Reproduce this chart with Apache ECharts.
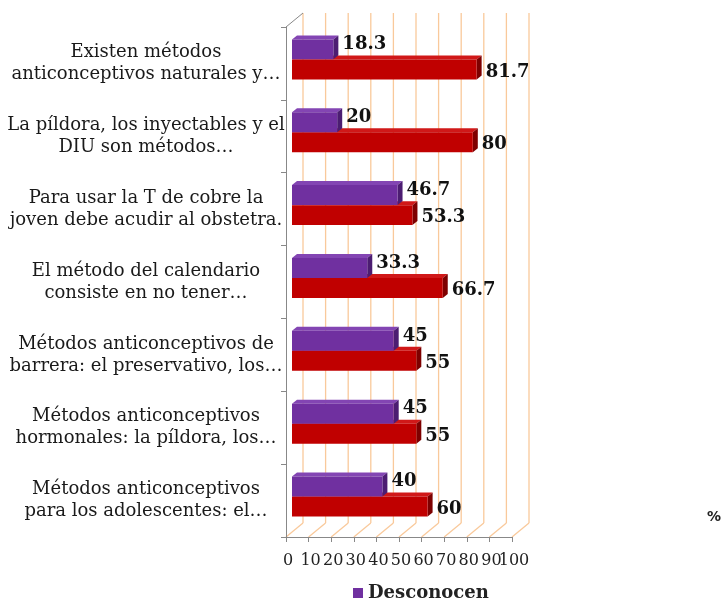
<!DOCTYPE html>
<html>
<head>
<meta charset="utf-8">
<script src="https://cdn.jsdelivr.net/npm/echarts@6/dist/echarts.min.js"></script>
<style>
  html, body { margin: 0; padding: 0; background: #fff; }
  #chart { width: 722px; height: 602px; }
</style>
</head>
<body>
<div id="chart"></div>
<script>
// categorias (texto cortado igual que en la figura original)
const categories = [
  'Existen métodos\nanticonceptivos naturales y…',
  'La píldora, los inyectables y el\nDIU son métodos…',
  'Para usar la T de cobre la\njoven debe acudir al obstetra.',
  'El método del calendario\nconsiste en no tener…',
  'Métodos anticonceptivos de\nbarrera: el preservativo, los…',
  'Métodos anticonceptivos\nhormonales: la píldora, los…',
  'Métodos anticonceptivos\npara los adolescentes: el…'
]
const desconocen = [18.3, 20, 46.7, 33.3, 45, 45, 40]
const conocen = [81.7, 80, 53.3, 66.7, 55, 55, 60]
const xTicks = [0, 10, 20, 30, 40, 50, 60, 70, 80, 90, 100]

const DX = 17 // profundidad de la pared del fondo
const DY = 14
const serif = '"DejaVu Serif", serif'

// barra con efecto 3D: cara frontal, cara superior y lateral
function bar3d(front, top, side, offRatio, labelDy) {
  return function(params, api) {
    const idx = api.value(0)
    const val = api.value(1)
    const start = api.coord([0, idx])
    const end = api.coord([val, idx])
    const band = api.size([0, 1])[1]
    const x0 = start[0] + 6
    const x1 = end[0] + 6
    const h = band * 0.274
    const y = start[1] + band * offRatio
    const d = 5
    const e = 4
    return {
      type: 'group',
      children: [
        {
          type: 'polygon',
          shape: { points: [[x0, y], [x0 + d, y - e], [x1 + d, y - e], [x1, y]] },
          style: { fill: top }
        },
        {
          type: 'polygon',
          shape: { points: [[x1, y], [x1 + d, y - e], [x1 + d, y + h - e], [x1, y + h]] },
          style: { fill: side }
        },
        {
          type: 'rect',
          shape: { x: x0, y: y, width: x1 - x0, height: h },
          style: { fill: front }
        },
        {
          type: 'text',
          style: {
            text: String(val),
            x: x1 + 9,
            y: start[1] + labelDy,
            align: 'left',
            verticalAlign: 'middle',
            font: 'bold 18px ' + serif,
            fill: '#111'
          }
        }
      ]
    }
  }
}

const chart = echarts.init(document.getElementById('chart'))
const option = {
  animation: false,
  backgroundColor: '#fff',
  grid: { left: 286, right: 210, top: 27, bottom: 65, containLabel: false },
  legend: {
    data: ['Desconocen'],
    left: 348,
    top: 579,
    icon: 'rect',
    itemWidth: 10,
    itemHeight: 10,
    itemGap: 8,
    textStyle: { fontFamily: serif, fontWeight: 'bold', fontSize: 18, color: '#222' }
  },
  xAxis: {
    type: 'value',
    min: 0,
    max: 100,
    interval: 10,
    axisLine: { show: true, lineStyle: { color: '#888' } },
    axisTick: { show: true, length: 5, lineStyle: { color: '#888' } },
    splitLine: { show: false },
    // las etiquetas se pintan en la serie grid3d (aqui se solapan y ECharts oculta alguna)
    axisLabel: { show: false }
  },
  yAxis: {
    type: 'category',
    inverse: true,
    data: categories,
    axisLine: { show: true, lineStyle: { color: '#888' } },
    axisTick: { show: true, length: 5, lineStyle: { color: '#888' } },
    axisLabel: {
      align: 'center',
      margin: 140,
      lineHeight: 22,
      fontFamily: serif,
      fontSize: 18,
      color: '#1a1a1a'
    }
  },
  graphic: [
    {
      type: 'text',
      left: 707,
      top: 510,
      style: { text: '%', font: 'bold 14px "DejaVu Sans", sans-serif', fill: '#222' }
    }
  ],
  series: [
    {
      // lineas de division en perspectiva (suelo + pared del fondo) y etiquetas del eje x
      name: 'grid3d',
      type: 'custom',
      silent: true,
      z: 0,
      encode: { x: 0, y: 1 },
      data: xTicks.map(v => [v, 0]),
      renderItem: function(params, api) {
        const cs = params.coordSys
        const v = api.value(0)
        const x = api.coord([v, 0])[0]
        const bottom = cs.y + cs.height
        const lc = '#f9c99b'
        const kids = [
          { type: 'line', shape: { x1: x, y1: bottom, x2: x + DX, y2: bottom - DY }, style: { stroke: lc, lineWidth: 1.3 } },
          { type: 'line', shape: { x1: x + DX, y1: bottom - DY, x2: x + DX, y2: cs.y - DY }, style: { stroke: lc, lineWidth: 1.3 } },
          {
            type: 'text',
            style: {
              text: String(v),
              x: x + 2,
              y: bottom + 24,
              align: 'center',
              verticalAlign: 'middle',
              font: '16px ' + serif,
              fill: '#222'
            }
          }
        ]
        if (v === 0) {
          kids.push({ type: 'line', shape: { x1: x, y1: cs.y, x2: x + DX, y2: cs.y - DY }, style: { stroke: '#888', lineWidth: 1 } })
        }
        return { type: 'group', children: kids }
      }
    },
    {
      name: 'Desconocen',
      type: 'custom',
      z: 3,
      itemStyle: { color: '#7030a0' },
      encode: { x: 1, y: 0 },
      data: desconocen.map((v, i) => [i, v]),
      renderItem: bar3d('#7030a0', '#8345b3', '#4c1d72', -0.33, -19)
    },
    {
      name: 'Conocen',
      type: 'custom',
      z: 2,
      itemStyle: { color: '#c00000' },
      encode: { x: 1, y: 0 },
      data: conocen.map((v, i) => [i, v]),
      renderItem: bar3d('#c00000', '#d01818', '#7e0000', -0.055, 8.5)
    }
  ]
}
chart.setOption(option)
</script>
</body>
</html>
